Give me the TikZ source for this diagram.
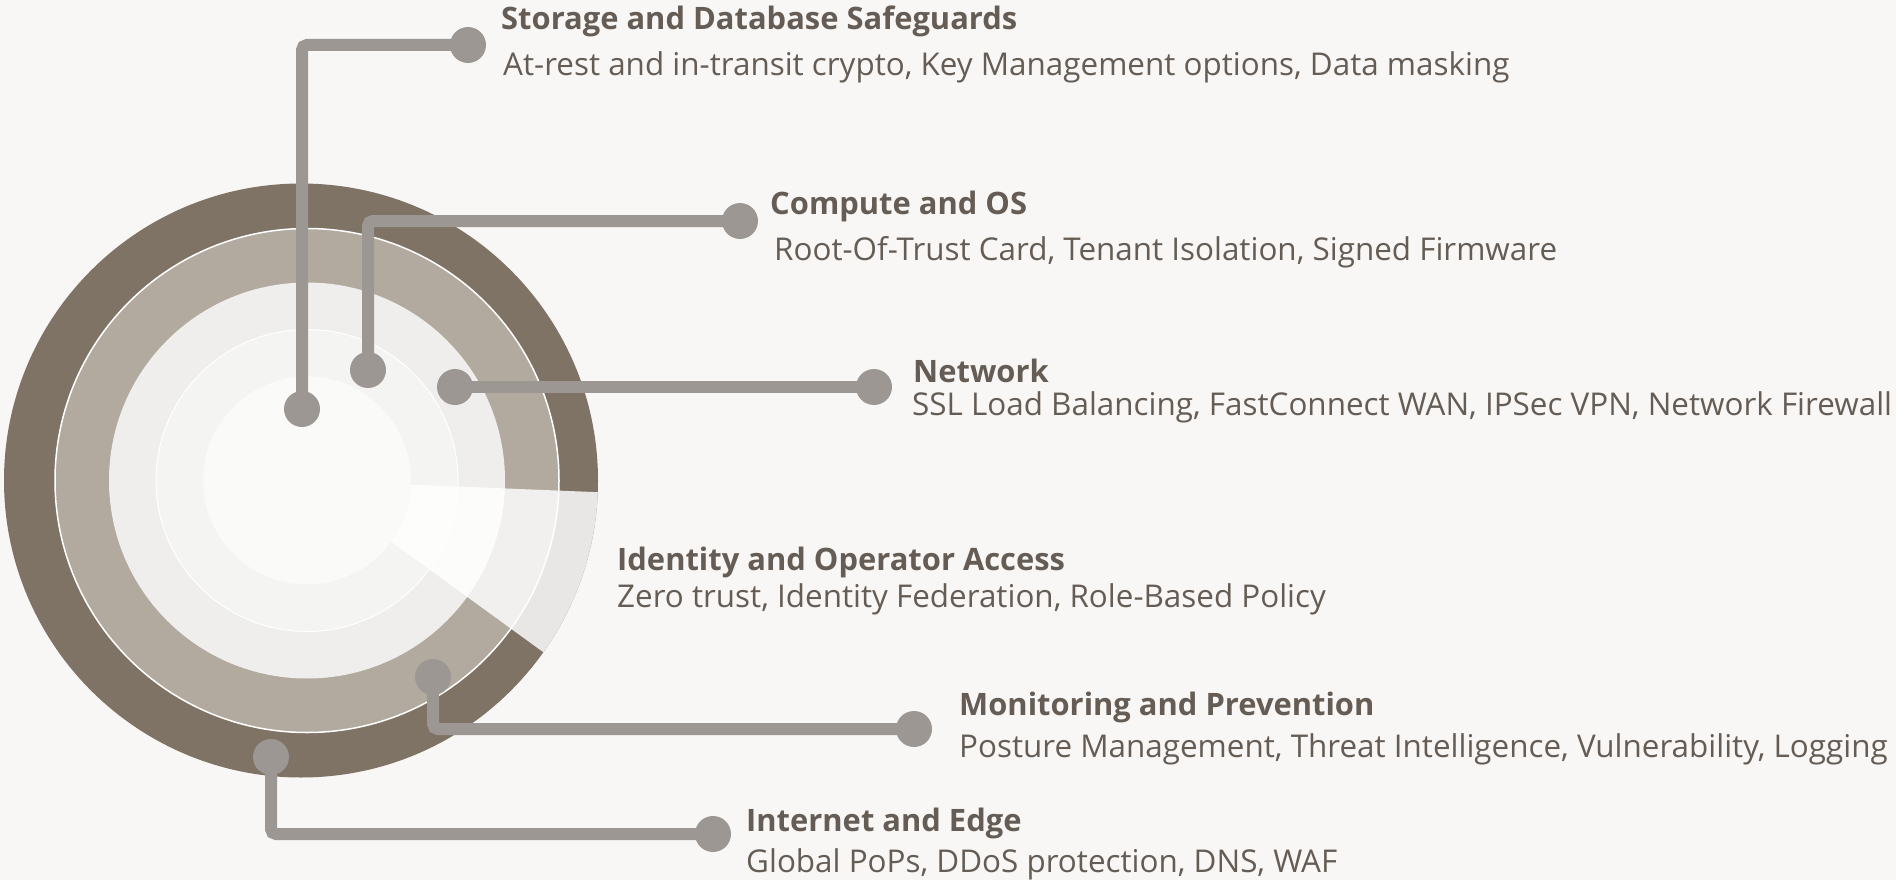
\documentclass[tikz,border=0pt]{standalone}
\usepackage{fontspec}
\setmainfont{Open Sans}
\usetikzlibrary{calc}
\definecolor{paper}{HTML}{F8F7F5}
\definecolor{ringA}{HTML}{7F7366}
\definecolor{ringB}{HTML}{B2AA9E}
\definecolor{ringC}{HTML}{EFEEEC}
\definecolor{ringD}{HTML}{F4F4F3}
\definecolor{ringE}{HTML}{FAFAF9}
\definecolor{wirec}{HTML}{9C9792}
\definecolor{ink}{HTML}{655D55}
\begin{document}
\begin{tikzpicture}[x=1pt,y=-1pt,
dot/.style={circle,fill=wirec,inner sep=0pt,minimum size=36pt},
wire/.style={draw=wirec,line width=12pt,rounded corners=5pt},
head/.style={anchor=base west,inner sep=0pt,text=ink,font=\fontsize{30.9}{36}\selectfont\bfseries},
body/.style={anchor=base west,inner sep=0pt,text=ink,font=\fontsize{31.4}{36}\selectfont}]
\fill[paper] (0,0) rectangle (1896,880);
\coordinate (mid) at (307,480.5);
\fill[ringA] (301,480.5) circle[radius=297pt];
\fill[ringB] (mid) circle[radius=252pt];
\fill[ringC] (mid) circle[radius=198pt];
\fill[ringD] (mid) circle[radius=151pt];
\fill[ringE] (mid) circle[radius=104pt];
\begin{scope}
\clip (301,480.5) circle[radius=297pt];
\fill[white,opacity=0.83] ($(mid)+(-2.3:104pt)$) -- ($(mid)+(-2.3:404pt)$) arc[start angle=-2.3,end angle=-36,radius=404pt] -- ($(mid)+(-36:104pt)$) arc[start angle=-36,end angle=-2.3,radius=104pt] -- cycle;
\fill[white,opacity=0.15] (mid) -- ($(mid)+(-2.3:104pt)$) arc[start angle=-2.3,end angle=-36,radius=104pt] -- cycle;
\end{scope}
\draw[white,line width=1.5pt] (mid) circle[radius=252pt];
\draw[white,line width=1pt] (mid) circle[radius=151pt];

\node[dot] (sdbIn) at (302,409) {};
\node[dot] (sdbOut) at (468,45) {};
\node[dot] (osIn) at (368,370) {};
\node[dot] (osOut) at (740,221) {};
\node[dot] (netIn) at (455,387) {};
\node[dot] (netOut) at (874,387) {};
\node[dot] (monIn) at (433,677) {};
\node[dot] (monOut) at (914,729) {};
\node[dot] (edgeIn) at (271,757) {};
\node[dot] (edgeOut) at (713,834) {};
\draw[wire] (sdbIn.center) |- (sdbOut.center);
\draw[wire] (osIn.center) |- (osOut.center);
\draw[wire] (netIn.center) -- (netOut.center);
\draw[wire] (monIn.center) |- (monOut.center);
\draw[wire] (edgeIn.center) |- (edgeOut.center);

\node[head] (sdbHead) at (501,30) {Storage and Database Safeguards};
\node[body] (sdbText) at (503,76) {At-rest and in-transit crypto, Key Management options, Data masking};
\node[head] (osHead) at (770,214) {Compute and OS};
\node[body] (osText) at (774,260) {Root-Of-Trust Card, Tenant Isolation, Signed Firmware};
\node[head] (netHead) at (913,382) {Network};
\node[body] (netText) at (912,415) {SSL Load Balancing, FastConnect WAN, IPSec VPN, Network Firewall};
\node[head] (idHead) at (617,570) {Identity and Operator Access};
\node[body] (idText) at (617,607) {Zero trust, Identity Federation, Role-Based Policy};
\node[head] (monHead) at (959,715) {Monitoring and Prevention};
\node[body] (monText) at (959,757) {Posture Management, Threat Intelligence, Vulnerability, Logging};
\node[head] (edgeHead) at (746,831) {Internet and Edge};
\node[body] (edgeText) at (746,872) {Global PoPs, DDoS protection, DNS, WAF};
\end{tikzpicture}
\end{document}
